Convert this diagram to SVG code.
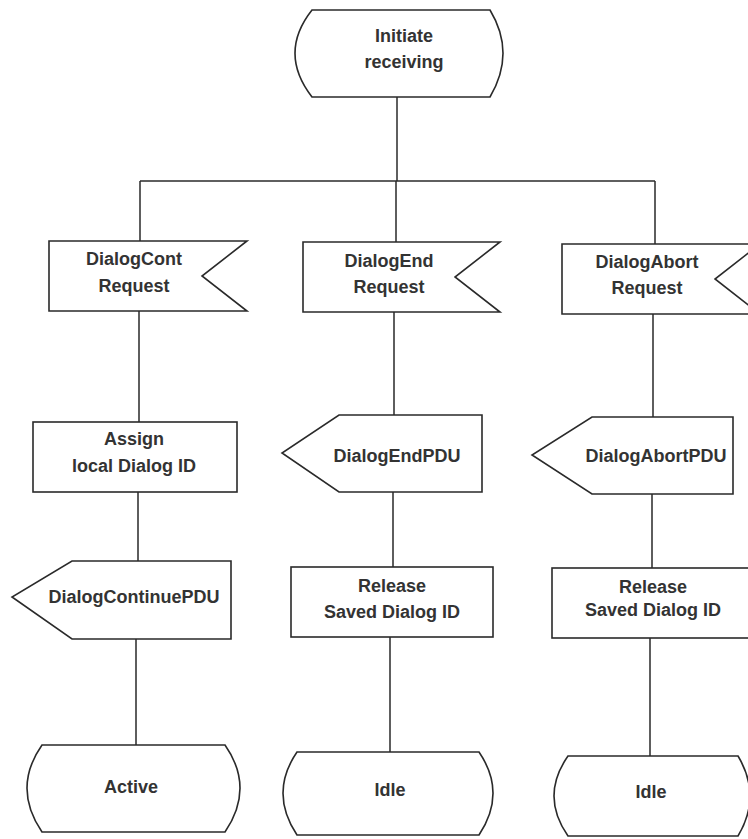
<svg xmlns="http://www.w3.org/2000/svg" width="748" height="839" viewBox="0 0 748 839">
  <style>
    .shape { fill: #ffffff; stroke: #2a2a2a; stroke-width: 1.6; stroke-linejoin: miter; }
    .wire { fill: none; stroke: #2a2a2a; stroke-width: 1.5; }
    text { font-family: "Liberation Sans", Arial, sans-serif; font-size: 18px; font-weight: bold; fill: #333333; text-anchor: middle; }
  </style>
  <rect width="748" height="839" fill="#ffffff"/>

  <g id="connectors">
    <path class="wire" d="M397,97 V181"/>
    <path class="wire" d="M140,181 H655"/>
    <path class="wire" d="M140,181 V241 M139,311 V422 M138,492 V561 M136,639 V745"/>
    <path class="wire" d="M396,181 V242 M394,312 V415 M393,492 V567 M390,637 V752"/>
    <path class="wire" d="M655,181 V244 M653,314 V417 M652,494 V568 M650,638 V756"/>
  </g>

  <g id="initiate-receiving">
    <path class="shape" d="M312,10 H490 Q516,53 490,97 H312 Q278,53 312,10 Z"/>
    <text x="404" y="42">Initiate</text>
    <text x="404" y="68">receiving</text>
  </g>

  <g id="dialog-cont-request">
    <path class="shape" d="M49,241 H247 L202,276 L247,311 H49 Z"/>
    <text x="134" y="265">DialogCont</text>
    <text x="134" y="292">Request</text>
  </g>

  <g id="dialog-end-request">
    <path class="shape" d="M303,242 H500 L455,277 L500,312 H303 Z"/>
    <text x="389" y="267">DialogEnd</text>
    <text x="389" y="293">Request</text>
  </g>

  <g id="dialog-abort-request">
    <path class="shape" d="M562,244 H760 L715,279 L760,314 H562 Z"/>
    <text x="647" y="268">DialogAbort</text>
    <text x="647" y="294">Request</text>
  </g>

  <g id="assign-local-dialog-id">
    <rect class="shape" x="33" y="422" width="204" height="70"/>
    <text x="134" y="445">Assign</text>
    <text x="134" y="472">local Dialog ID</text>
  </g>

  <g id="dialog-continue-pdu">
    <path class="shape" d="M72,561 H231 V639 H72 L12,597 Z"/>
    <text x="134" y="603">DialogContinuePDU</text>
  </g>

  <g id="dialog-end-pdu">
    <path class="shape" d="M339,415 H482 V492 H339 L282,453 Z"/>
    <text x="397" y="462">DialogEndPDU</text>
  </g>

  <g id="dialog-abort-pdu">
    <path class="shape" d="M592,417 H733 V494 H592 L532,455 Z"/>
    <text x="656" y="462">DialogAbortPDU</text>
  </g>

  <g id="release-end">
    <rect class="shape" x="291" y="567" width="202" height="70"/>
    <text x="392" y="592">Release</text>
    <text x="392" y="618">Saved Dialog ID</text>
  </g>

  <g id="release-abort">
    <rect class="shape" x="552" y="568" width="204" height="70"/>
    <text x="653" y="593">Release</text>
    <text x="653" y="616">Saved Dialog ID</text>
  </g>

  <g id="state-active">
    <path class="shape" d="M42,745 H225 Q255,788 225,832 H42 Q12,788 42,745 Z"/>
    <text x="131" y="793">Active</text>
  </g>

  <g id="state-idle-end">
    <path class="shape" d="M297,752 H479 Q507,793 479,835 H297 Q269,793 297,752 Z"/>
    <text x="390" y="796">Idle</text>
  </g>

  <g id="state-idle-abort">
    <path class="shape" d="M568,756 H738 Q762,796 738,836 H568 Q540,796 568,756 Z"/>
    <text x="651" y="798">Idle</text>
  </g>
</svg>
